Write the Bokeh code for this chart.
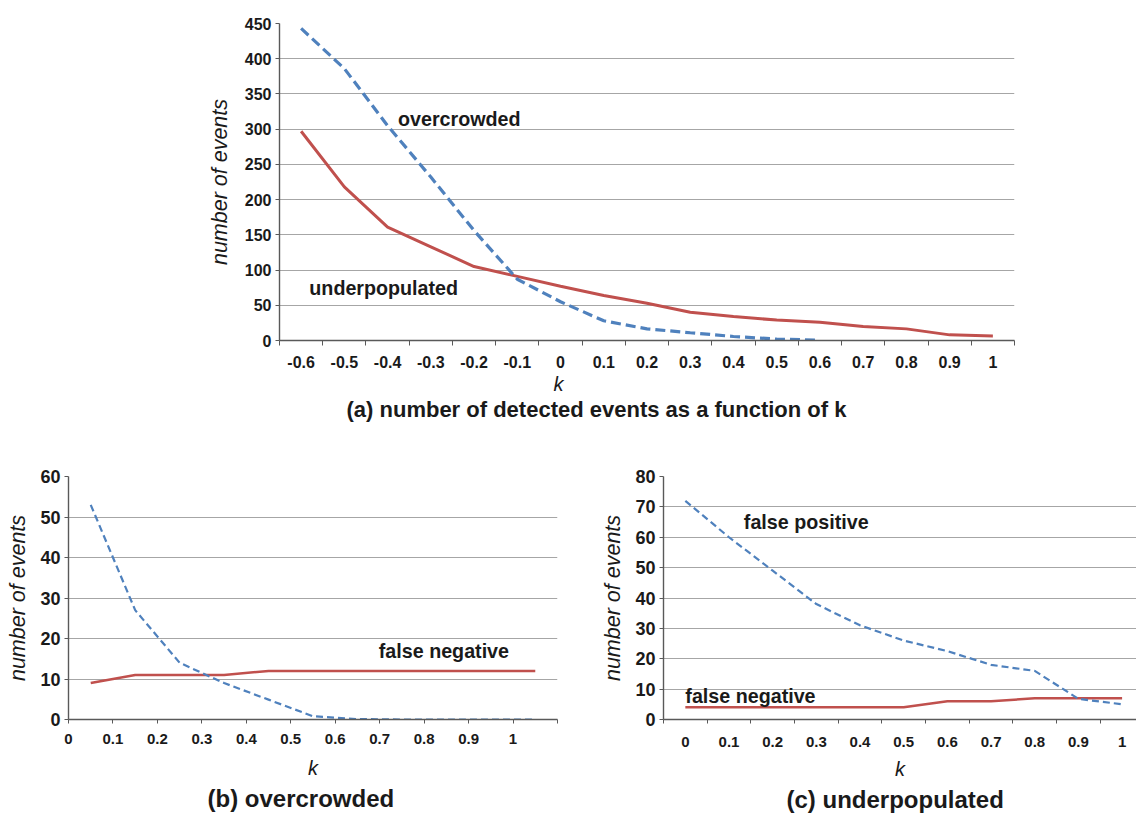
from bokeh.plotting import figure
from bokeh.models import FixedTicker, Label, Range1d, Title
from bokeh.layouts import column, row
from bokeh.embed import file_html
from bokeh.resources import INLINE

FONT = "Liberation Sans"
RED = "#c0504d"
BLUE = "#4f81bd"
GRID = "#a6a6a6"
AXIS = "#595959"
TXT = "#1a1a1a"

# ---------------- data ----------------
# (a) number of detected events as a function of k (category axis)
k_labels_a = ["-0.6", "-0.5", "-0.4", "-0.3", "-0.2", "-0.1", "0", "0.1", "0.2",
              "0.3", "0.4", "0.5", "0.6", "0.7", "0.8", "0.9", "1"]
underpopulated_a = [297, 218, 161, 133, 105, 91, 77, 64, 53, 40, 34, 29, 26, 20, 16.5, 8, 6.5]
overcrowded_a = [443, 386, 305, 232, 156, 87, 55, 28, 16.5, 11, 5.7, 2, 0.5]
y_ticks_a = [0, 50, 100, 150, 200, 250, 300, 350, 400, 450]

# (b) overcrowded (value axis)
k_b = [0.05, 0.15, 0.25, 0.35, 0.45, 0.55, 0.65, 0.75, 0.85, 0.95, 1.05]
false_negative_b = [9, 11, 11, 11, 12, 12, 12, 12, 12, 12, 12]
false_positive_b = [53, 27, 14, 9, 4.9, 0.8, 0.1, 0, 0, 0, 0]
k_ticks_b = [0, 0.1, 0.2, 0.3, 0.4, 0.5, 0.6, 0.7, 0.8, 0.9, 1]
k_tick_labels_b = ["0", "0.1", "0.2", "0.3", "0.4", "0.5", "0.6", "0.7", "0.8", "0.9", "1"]
y_ticks_b = [0, 10, 20, 30, 40, 50, 60]

# (c) underpopulated (category axis)
k_labels_c = ["0", "0.1", "0.2", "0.3", "0.4", "0.5", "0.6", "0.7", "0.8", "0.9", "1"]
false_positive_c = [72, 60, 49, 38, 31, 26, 22.5, 18, 16, 6.8, 5]
false_negative_c = [4, 4, 4, 4, 4, 4, 6, 6, 7, 7, 7]
y_ticks_c = [0, 10, 20, 30, 40, 50, 60, 70, 80]


def style(p, y_ticks, ytick_size):
    p.outline_line_color = None
    p.background_fill_color = "white"
    p.border_fill_color = "white"
    p.xgrid.visible = False
    p.ygrid.ticker = FixedTicker(ticks=y_ticks)
    p.ygrid.grid_line_color = GRID
    p.ygrid.grid_line_width = 1.2
    ya = p.yaxis[0]
    ya.ticker = FixedTicker(ticks=y_ticks)
    ya.axis_line_color = AXIS
    ya.axis_line_width = 1.4
    ya.major_tick_line_color = AXIS
    ya.major_tick_in = 0
    ya.major_tick_out = 4
    ya.minor_tick_line_color = None
    ya.major_label_standoff = 4
    ya.major_label_text_font = FONT
    ya.major_label_text_font_style = "bold"
    ya.major_label_text_font_size = ytick_size
    ya.major_label_text_color = TXT
    ya.axis_label = "number of events"
    ya.axis_label_text_font = FONT
    ya.axis_label_text_font_style = "italic"
    ya.axis_label_text_font_size = "21.5px"
    ya.axis_label_text_color = TXT
    ya.axis_label_standoff = 7
    xa = p.xaxis[0]
    xa.axis_line_color = AXIS
    xa.axis_line_width = 1.4
    xa.major_tick_line_color = AXIS
    xa.minor_tick_line_color = AXIS
    xa.major_label_text_font = FONT
    xa.major_label_text_font_style = "bold"
    xa.major_label_text_color = TXT


def label(p, x, y, text, size="19.7px"):
    p.add_layout(Label(x=x, y=y, text=text, text_font=FONT, text_font_size=size,
                       text_font_style="bold", text_color=TXT,
                       text_align="left", text_baseline="middle"))


def below_title(p, text, align, offset, standoff, size, italic=False):
    p.add_layout(Title(text=text, align=align, offset=offset, standoff=standoff,
                       text_font=FONT, text_font_size=size,
                       text_font_style="italic" if italic else "bold",
                       text_color=TXT), "below")


# ---------------- (a) ----------------
idx_a = list(range(len(k_labels_a)))
pa = figure(width=1136, height=440, output_backend="svg", toolbar_location=None,
            x_range=Range1d(-0.5, len(k_labels_a) - 0.5), y_range=Range1d(0, 450),
            min_border_left=279, min_border_right=122, min_border_top=23, min_border_bottom=100)
style(pa, y_ticks_a, "16px")
pa.xaxis[0].ticker = FixedTicker(ticks=idx_a, minor_ticks=[i - 0.5 for i in range(len(k_labels_a) + 1)])
pa.xaxis[0].major_label_overrides = {i: lab for i, lab in zip(idx_a, k_labels_a)}
pa.xaxis[0].major_tick_out = 0
pa.xaxis[0].major_tick_in = 0
pa.xaxis[0].minor_tick_out = 5
pa.xaxis[0].minor_tick_in = 0
pa.xaxis[0].major_label_standoff = 10
pa.xaxis[0].major_label_text_font_size = "16px"
pa.yaxis[0].axis_label_standoff = 10
pa.line(idx_a, underpopulated_a, line_color=RED, line_width=3)
pa.line(idx_a[:len(overcrowded_a)], overcrowded_a, line_color=BLUE, line_width=3.2, line_dash="10 5")
label(pa, 2.24, 315, "overcrowded")
label(pa, 0.19, 75, "underpopulated")
below_title(pa, "k", "left", 274, 0, "20px", italic=True)
below_title(pa, "(a) number of detected events as a function of k", "left", 67, 0, "22px")

# ---------------- (b) ----------------
pb = figure(width=590, height=375, output_backend="svg", toolbar_location=None,
            x_range=Range1d(0, 1.1), y_range=Range1d(0, 60),
            min_border_left=68, min_border_right=33, min_border_top=35, min_border_bottom=96)
style(pb, y_ticks_b, "18px")
pb.xaxis[0].ticker = FixedTicker(ticks=k_ticks_b, minor_ticks=[1.1])
pb.xaxis[0].major_label_overrides = {t: lab for t, lab in zip(k_ticks_b, k_tick_labels_b)}
pb.xaxis[0].major_tick_out = 4
pb.xaxis[0].major_tick_in = 0
pb.xaxis[0].minor_tick_out = 4
pb.xaxis[0].minor_tick_in = 0
pb.xaxis[0].major_label_standoff = 10
pb.xaxis[0].major_label_text_font_size = "15px"
pb.xaxis[0].axis_label = "k"
pb.xaxis[0].axis_label_text_font = FONT
pb.xaxis[0].axis_label_text_font_style = "italic"
pb.xaxis[0].axis_label_text_font_size = "20px"
pb.xaxis[0].axis_label_text_color = TXT
pb.xaxis[0].axis_label_standoff = 10
pb.line(k_b, false_negative_b, line_color=RED, line_width=2.5)
pb.line(k_b, false_positive_b, line_color=BLUE, line_width=2.2, line_dash="7 4")
label(pb, 0.698, 16.8, "false negative")
below_title(pb, "(b) overcrowded", "left", 139, 2, "24px")

# ---------------- (c) ----------------
idx_c = list(range(len(k_labels_c)))
pc = figure(width=546, height=375, output_backend="svg", toolbar_location=None,
            x_range=Range1d(-0.5, len(k_labels_c) - 0.67), y_range=Range1d(0, 80),
            min_border_left=73, min_border_right=0, min_border_top=36, min_border_bottom=93)
style(pc, y_ticks_c, "18px")
pc.xaxis[0].ticker = FixedTicker(ticks=idx_c, minor_ticks=[i - 0.5 for i in range(len(k_labels_c) + 1)])
pc.xaxis[0].major_label_overrides = {i: lab for i, lab in zip(idx_c, k_labels_c)}
pc.xaxis[0].major_tick_out = 0
pc.xaxis[0].major_tick_in = 0
pc.xaxis[0].minor_tick_out = 4
pc.xaxis[0].minor_tick_in = 0
pc.xaxis[0].major_label_standoff = 13
pc.xaxis[0].major_label_text_font_size = "15px"
pc.xaxis[0].axis_label = "k"
pc.xaxis[0].axis_label_text_font = FONT
pc.xaxis[0].axis_label_text_font_style = "italic"
pc.xaxis[0].axis_label_text_font_size = "20px"
pc.xaxis[0].axis_label_text_color = TXT
pc.xaxis[0].axis_label_standoff = 8
pc.line(idx_c, false_negative_c, line_color=RED, line_width=2.5)
pc.line(idx_c, false_positive_c, line_color=BLUE, line_width=2.2, line_dash="7 4")
label(pc, 1.34, 65, "false positive")
label(pc, 0.0, 7.9, "false negative")
below_title(pc, "(c) underpopulated", "left", 123, 2, "24px")

layout = column(pa, row(pb, pc))
open("out.html", "w").write(file_html(layout, INLINE))
